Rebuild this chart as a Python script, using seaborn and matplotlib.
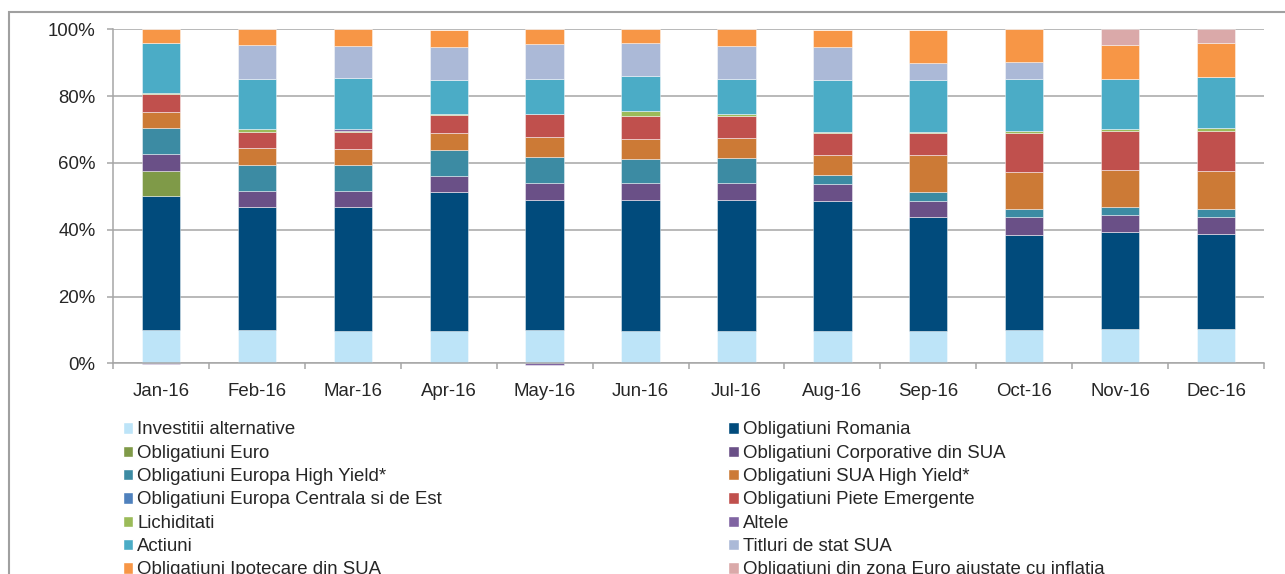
import numpy as np
import matplotlib.pyplot as plt
import seaborn as sns
from matplotlib.patches import Patch, Rectangle
from matplotlib.ticker import PercentFormatter, FixedLocator

# Date (procente din portofoliu)
months = ["Jan-16", "Feb-16", "Mar-16", "Apr-16", "May-16", "Jun-16",
          "Jul-16", "Aug-16", "Sep-16", "Oct-16", "Nov-16", "Dec-16"]

alternative = [10.0, 10.0, 9.8, 9.8, 10.0, 9.8, 9.8, 9.8, 9.8, 10.0, 10.2, 10.3]
romania = [40.0, 36.7, 36.9, 41.4, 38.8, 39.0, 39.2, 38.9, 33.9, 28.5, 29.0, 28.3]
euro = [7.7, 0, 0, 0, 0, 0, 0, 0, 0, 0, 0, 0]
corporative = [4.9, 5.0, 4.8, 4.9, 5.1, 5.1, 4.9, 5.0, 5.0, 5.2, 5.1, 5.1]
europa_hy = [7.7, 7.6, 7.8, 7.7, 7.8, 7.4, 7.5, 2.6, 2.6, 2.4, 2.4, 2.6]
sua_hy = [5.0, 5.2, 4.9, 5.2, 6.2, 6.0, 6.1, 6.1, 11.1, 11.3, 11.2, 11.3]
cee = [0, 0, 0, 0, 0, 0, 0, 0, 0, 0, 0, 0]
emergente = [5.2, 4.8, 5.0, 5.2, 6.6, 6.7, 6.4, 6.5, 6.5, 11.6, 11.6, 12.1]
lichiditati = [0.4, 0.7, 0.4, 0.5, 0.2, 1.4, 0.6, 0.5, 0.4, 0.7, 0.7, 0.6]
altele = [-0.3, 0, 0.6, 0, -0.4, 0, 0, 0, 0, 0, 0, 0]
actiuni = [14.9, 15.1, 15.1, 10.1, 10.4, 10.5, 10.5, 15.3, 15.4, 15.4, 14.9, 15.4]
titluri = [0, 10.2, 9.8, 10.0, 10.5, 10.1, 10.1, 10.1, 5.2, 5.2, 0, 0]
ipotecare = [4.2, 4.7, 4.9, 5.0, 4.4, 4.0, 4.9, 4.9, 10.0, 9.7, 10.3, 10.1]
euro_inflatie = [0, 0, 0, 0, 0, 0, 0, 0, 0, 0, 4.6, 4.2]

labels = ["Investitii alternative", "Obligatiuni Romania", "Obligatiuni Euro",
          "Obligatiuni Corporative din SUA", "Obligatiuni Europa High Yield*",
          "Obligatiuni SUA High Yield*", "Obligatiuni Europa Centrala si de Est",
          "Obligatiuni Piete Emergente", "Lichiditati", "Altele", "Actiuni",
          "Titluri de stat SUA", "Obligatiuni Ipotecare din SUA",
          "Obligatiuni din zona Euro ajustate cu inflatia"]
series = [alternative, romania, euro, corporative, europa_hy, sua_hy, cee,
          emergente, lichiditati, altele, actiuni, titluri, ipotecare, euro_inflatie]
colors = ["#BDE4F8", "#014B7C", "#7F9A48", "#6A5087", "#3C8BA3", "#CC7A36",
          "#4F81BD", "#C0504D", "#9BBB59", "#8064A2", "#4BACC6", "#ABB9D7",
          "#F79646", "#DAA9A9"]

sns.set_style("white")
plt.rcParams['font.family'] = ['Liberation Sans', 'DejaVu Sans']

grey = "#A6A6A6"
fs = 13.4

fig = plt.figure(figsize=(12.85, 5.74), dpi=100)
ax = fig.add_axes([113 / 1285, 1 - 363.3 / 574, (1264 - 113) / 1285, (363.3 - 29.3) / 574])

pos_bottom = np.zeros(len(months))
neg_bottom = np.zeros(len(months))
for vals, col in zip(series, colors):
    v = np.array(vals) / 100.0
    bottom = np.where(v >= 0, pos_bottom, neg_bottom)
    sns.barplot(x=months, y=v, bottom=bottom, color=col, width=0.4,
                errorbar=None, ax=ax, edgecolor=(1, 1, 1, 0.5), linewidth=0.6,
                saturation=1, clip_on=False)
    pos_bottom += np.clip(v, 0, None)
    neg_bottom += np.clip(v, None, 0)

ax.set_xlim(-0.5, len(months) - 0.5)
ax.set_ylim(0, 1)
ax.set_yticks(np.arange(0, 1.01, 0.2))
ax.yaxis.set_major_formatter(PercentFormatter(1.0, decimals=0))
ax.set_xlabel("")
ax.set_ylabel("")

ax.set_axisbelow(True)
ax.grid(axis="y", color=grey, linewidth=1.1)
for side in ["top", "right"]:
    ax.spines[side].set_visible(False)
for side in ["left", "bottom"]:
    ax.spines[side].set_color(grey)
    ax.spines[side].set_linewidth(1.1)

ax.xaxis.set_minor_locator(FixedLocator(np.arange(-0.5, len(months), 1.0)))
ax.tick_params(axis="x", which="major", length=0, labelsize=fs, pad=14)
ax.tick_params(axis="x", which="minor", length=4.5, width=1.1, color=grey, direction="out", bottom=True)
ax.tick_params(axis="y", which="major", length=4.5, width=1.1, color=grey, direction="out",
               left=True, labelsize=fs, pad=8)

handles = [Patch(facecolor=c, label=l) for c, l in zip(colors, labels)]
leg_kw = dict(loc="upper left", frameon=False, fontsize=fs, borderpad=0, borderaxespad=0,
              handlelength=0.56, handleheight=0.56, handletextpad=0.22, labelspacing=0.34)
leg1 = fig.legend(handles=handles[0::2], bbox_to_anchor=(122.7 / 1285, 1 - 421.5 / 574), **leg_kw)
leg2 = fig.legend(handles=handles[1::2], bbox_to_anchor=(728.3 / 1285, 1 - 421.5 / 574), **leg_kw)

fig.add_artist(Rectangle((9 / 1285, -0.1), 1.2, 1.1 - 12 / 574, transform=fig.transFigure,
                         fill=False, edgecolor="#A0A0A0", linewidth=1.5))

fig.savefig("out.png", dpi=100)
